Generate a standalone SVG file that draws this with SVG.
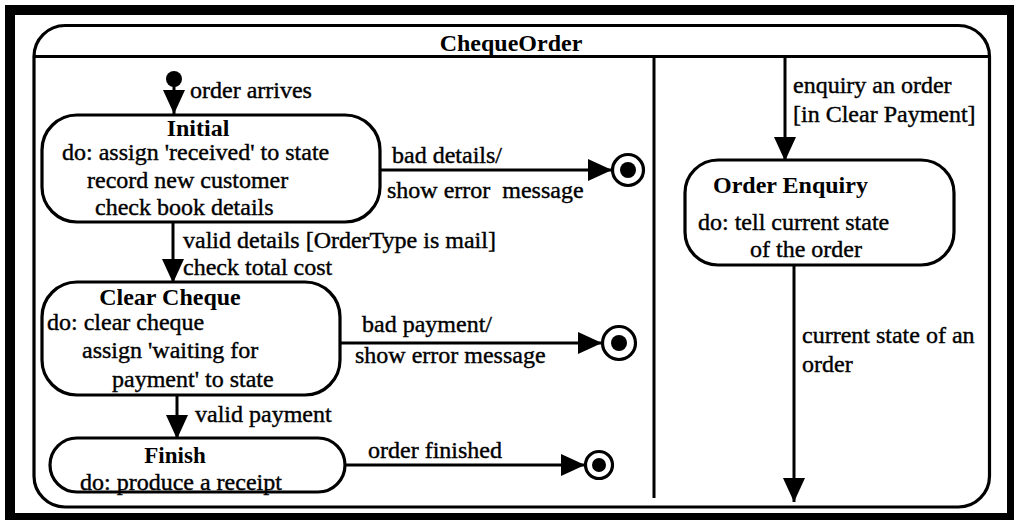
<svg xmlns="http://www.w3.org/2000/svg" width="1014" height="520" viewBox="0 0 1014 520">
<style>
  .frame{fill:none;stroke:#000;stroke-width:10}
  .box{fill:#fff;stroke:#000;stroke-width:3.2}
  .ln{fill:none;stroke:#000;stroke-width:3}
  .t{font-family:"Liberation Serif","Times New Roman",serif;font-size:24px;fill:#000;stroke:#000;stroke-width:0.4}
  .b{font-family:"Liberation Serif","Times New Roman",serif;font-size:24px;font-weight:bold;fill:#000}
  .m{text-anchor:middle}
  .fo{fill:#fff;stroke:#000;stroke-width:3.2}
  .fi{fill:#000}
</style>
<defs>
  <marker id="ah" markerUnits="userSpaceOnUse" markerWidth="24" markerHeight="22" refX="24" refY="11" orient="auto" viewBox="0 0 24 22">
    <path d="M0,0 L24,11 L0,22 z" fill="#000"/>
  </marker>
</defs>
<rect width="1014" height="520" fill="#fff"/>
<rect class="frame" x="10" y="10" width="1002" height="508"/>

<g id="chequeOrder">
  <rect class="box" x="34" y="25.5" width="955.5" height="481.5" rx="31"/>
  <line class="ln" x1="34" y1="56.5" x2="989.5" y2="56.5"/>
  <line class="ln" x1="654" y1="57" x2="654" y2="498"/>
  <text class="b m" x="511" y="51">ChequeOrder</text>
</g>

<g id="initialPseudo">
  <circle cx="174" cy="79" r="8" fill="#000"/>
</g>

<g id="initial">
  <rect class="box" x="42" y="115" width="338" height="107" rx="35"/>
  <text class="b m" x="198" y="136">Initial</text>
  <text class="t" x="62" y="160">do: assign 'received' to state</text>
  <text class="t" x="87" y="188">record new customer</text>
  <text class="t" x="95" y="215">check book details</text>
</g>

<g id="clearCheque">
  <rect class="box" x="42" y="282" width="298" height="113" rx="35"/>
  <text class="b m" x="170" y="305">Clear Cheque</text>
  <text class="t" x="47" y="330">do: clear cheque</text>
  <text class="t" x="82" y="358">assign 'waiting for</text>
  <text class="t" x="112" y="387">payment' to state</text>
</g>

<g id="finish">
  <rect class="box" x="50" y="438" width="295" height="54" rx="27"/>
  <text class="b m" x="175" y="463" style="font-size:23px">Finish</text>
  <text class="t" x="80" y="490">do: produce a receipt</text>
</g>

<g id="orderEnquiry">
  <rect class="box" x="685" y="160" width="269" height="105" rx="33"/>
  <text class="b" x="713" y="193">Order Enquiry</text>
  <text class="t" x="698" y="230">do: tell current state</text>
  <text class="t" x="750" y="257">of the order</text>
</g>

<g id="final1">
  <circle class="fo" cx="628" cy="170" r="15.5"/>
  <circle class="fi" cx="628" cy="170" r="8"/>
</g>
<g id="final2">
  <circle class="fo" cx="619" cy="343" r="16.5"/>
  <circle class="fi" cx="619" cy="343" r="8"/>
</g>
<g id="final3">
  <circle class="fo" cx="599" cy="465" r="13.5"/>
  <circle class="fi" cx="599" cy="465" r="7"/>
</g>

<g id="connectors">
  <line class="ln" x1="174" y1="84" x2="174" y2="114" marker-end="url(#ah)"/>
  <text class="t" x="190" y="98">order arrives</text>

  <line class="ln" x1="380" y1="170" x2="612" y2="170" marker-end="url(#ah)"/>
  <text class="t" x="392" y="163">bad details/</text>
  <text class="t" x="387" y="198" xml:space="preserve">show error  message</text>

  <line class="ln" x1="173" y1="222" x2="173" y2="283" marker-end="url(#ah)"/>
  <text class="t" x="183" y="248">valid details [OrderType is mail]</text>
  <text class="t" x="183" y="275">check total cost</text>

  <line class="ln" x1="340" y1="343" x2="602" y2="343" marker-end="url(#ah)"/>
  <text class="t" x="362" y="332">bad payment/</text>
  <text class="t" x="355" y="363">show error message</text>

  <line class="ln" x1="177" y1="395" x2="177" y2="439" marker-end="url(#ah)"/>
  <text class="t" x="195" y="422">valid payment</text>

  <line class="ln" x1="345" y1="465" x2="585" y2="465" marker-end="url(#ah)"/>
  <text class="t" x="368" y="458">order finished</text>

  <line class="ln" x1="785" y1="58" x2="785" y2="161" marker-end="url(#ah)"/>
  <text class="t" x="793" y="93">enquiry an order</text>
  <text class="t" x="793" y="122">[in Clear Payment]</text>

  <line class="ln" x1="794" y1="265" x2="794" y2="502" marker-end="url(#ah)"/>
  <text class="t" x="802" y="343">current state of an</text>
  <text class="t" x="802" y="372">order</text>
</g>
</svg>
